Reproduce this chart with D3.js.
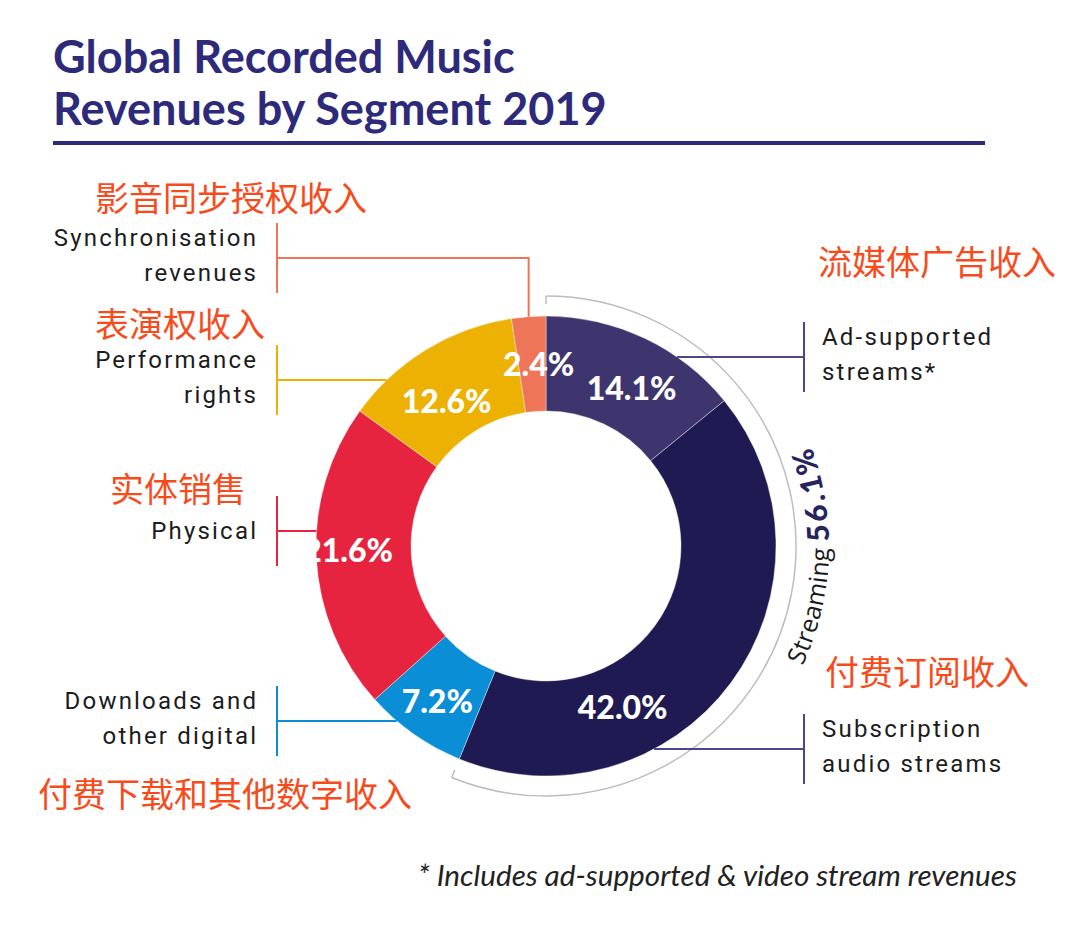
<!DOCTYPE html>
<html><head><meta charset="utf-8">
<script src="https://cdn.jsdelivr.net/npm/d3@7"></script>
<style>body{margin:0;background:#fff}</style>
</head><body><svg id="c" width="1080" height="935"></svg>
<script>
// ---- data ----
const categories = ["Ad-supported streams*","Subscription audio streams","Downloads and other digital","Physical","Performance rights","Synchronisation revenues"];
const values = [14.1, 42.0, 7.2, 21.6, 12.6, 2.4];
const cnLabels = ["流媒体广告收入","付费订阅收入","付费下载和其他数字收入","实体销售","表演权收入","影音同步授权收入"];
const enLines = [["Ad-supported","streams*"],["Subscription","audio streams"],["Downloads and","other digital"],["Physical"],["Performance","rights"],["Synchronisation","revenues"]];
const streamingCats = ["Ad-supported streams*","Subscription audio streams"];
const titleLines = ["Global Recorded Music","Revenues by Segment 2019"];
const footnote = "* Includes ad-supported & video stream revenues";
const colors = ["#3e356f","#201a52","#0a8ed6","#e6243f","#ecb102","#ee7558"];

// ---- layout ----
const cx = 546, cy = 546, R = 230, R0 = 135;
const layout = [
  {side:"right", y:357, cnX:818, cnY:275, da:3,  lr:180},
  {side:"right", y:749, cnX:825, cnY:685, da:28, lr:178},
  {side:"left",  y:721, cnX:38,  cnY:807, da:0,  lr:189},
  {side:"left",  y:531, cnX:110, cnY:502, da:2,  lr:198},
  {side:"left",  y:380, cnX:95,  cnY:337, da:-3, lr:176},
  {side:"left",  y:258, cnX:95,  cnY:211, da:2,  lr:183, elbow:true}
];
const leftBarX = 277, rightBarX = 804, leftTextX = 256, rightTextX = 822;

const svg = d3.select("#c");
const navy = "#2d2a7b";

// title
const title = svg.append("g");
titleLines.forEach((t,i)=>{
  title.append("text").attr("x",53).attr("y",73+i*52).text(t)
    .attr("font-family","Lato").attr("font-weight",700).attr("font-size",40)
    .attr("fill",navy);
});
{
  const w = title.selectAll("text").nodes()[1].getComputedTextLength();
  title.selectAll("text").attr("font-size",40*554/w);
}
svg.append("line").attr("x1",53).attr("x2",985).attr("y1",143).attr("y2",143)
  .attr("stroke",navy).attr("stroke-width",4);

// pie
const pie = d3.pie().sort(null).value(d=>d);
const arcs = pie(values);
const arc = d3.arc().innerRadius(R0).outerRadius(R);
const g = svg.append("g").attr("transform",`translate(${cx},${cy})`);
g.selectAll("path.slice").data(arcs).join("path").attr("class","slice")
  .attr("d",arc).attr("fill",(d,i)=>colors[i]).attr("stroke","#fff").attr("stroke-width",0.4);

const pt = (a,r)=>[r*Math.sin(a), -r*Math.cos(a)];

// percentage labels
g.selectAll("text.pct").data(arcs).join("text").attr("class","pct")
  .each(function(d,i){
    const a = (d.startAngle+d.endAngle)/2 + layout[i].da*Math.PI/180;
    const p = pt(a, layout[i].lr);
    d3.select(this).attr("x",p[0]).attr("y",p[1]);
  })
  .attr("text-anchor","middle").attr("dominant-baseline","central")
  .attr("font-family","Lato").attr("font-weight",900).attr("font-size",32)
  .attr("fill","#fff").text(d=>d3.format(".1f")(d.data)+"%");

// streaming bracket arc
const sIdx = streamingCats.map(c=>categories.indexOf(c));
const sStart = d3.min(sIdx, i=>arcs[i].startAngle);
const sEnd = d3.max(sIdx, i=>arcs[i].endAngle);
const sTotal = d3.sum(sIdx, i=>values[i]);
const bracketR = 250;
g.append("path").attr("d", d3.arc()({innerRadius:bracketR,outerRadius:bracketR,startAngle:sStart,endAngle:sEnd}))
  .attr("fill","none").attr("stroke","#bdbdbd").attr("stroke-width",1.5);
[sStart,sEnd].forEach(a=>{
  const p1 = pt(a,bracketR), p2 = pt(a,bracketR-8);
  g.append("line").attr("x1",p1[0]).attr("y1",p1[1]).attr("x2",p2[0]).attr("y2",p2[1])
    .attr("stroke","#bdbdbd").attr("stroke-width",1.5);
});
// streaming text path
{
  const tr = 283;
  const a1 = 165*Math.PI/180, a2 = 19*Math.PI/180;
  const p1 = pt(a1,tr), p2 = pt(a2,tr);
  g.append("path").attr("id","spath").attr("fill","none")
    .attr("d",`M${p1[0]},${p1[1]} A${tr},${tr} 0 0 0 ${p2[0]},${p2[1]}`);
  const t = g.append("text").append("textPath").attr("href","#spath")
    .attr("startOffset","50%").attr("text-anchor","middle");
  t.append("tspan").text("Streaming ").attr("font-family","Open Sans").attr("font-size",25)
    .attr("font-style","normal").attr("fill","#1a1a1a").attr("letter-spacing",0.3);
  t.append("tspan").text(d3.format(".1f")(sTotal)+"%").attr("font-family","Lato")
    .attr("font-weight",900).attr("font-size",30).attr("fill","#27235f").attr("letter-spacing",3);
}

// leaders + labels
const lab = svg.append("g");
arcs.forEach((d,i)=>{
  const L = layout[i], col = colors[i];
  const lc = (i<2) ? "#4b4788" : col;
  const barX = L.side==="left" ? leftBarX : rightBarX;
  lab.append("line").attr("x1",barX).attr("x2",barX).attr("y1",L.y-35).attr("y2",L.y+35)
    .attr("stroke",lc).attr("stroke-width",2);
  if (L.elbow) {
    const mid = (d.startAngle+d.endAngle)/2;
    const p = pt(mid,R);
    const x = cx+p[0];
    lab.append("polyline").attr("points",`${barX},${L.y} ${x},${L.y} ${x},${cy+p[1]}`)
      .attr("fill","none").attr("stroke",lc).attr("stroke-width",2);
  } else {
    const dx = Math.sqrt(R*R-(L.y-cy)*(L.y-cy));
    const ex = L.side==="left" ? cx-dx : cx+dx;
    lab.append("line").attr("x1",barX).attr("x2",ex).attr("y1",L.y).attr("y2",L.y)
      .attr("stroke",lc).attr("stroke-width",2);
  }
  const lines = enLines[i];
  const tx = L.side==="left" ? leftTextX : rightTextX;
  const baseYs = lines.length===1 ? [L.y+8] : [L.y-12, L.y+23];
  lines.forEach((s,k)=>{
    lab.append("text").attr("x", L.side==="left" ? tx+2.2 : tx).attr("y",baseYs[k]).text(s)
      .attr("text-anchor", L.side==="left" ? "end" : "start")
      .attr("font-family","Roboto").attr("font-size",24).attr("letter-spacing",2.2)
      .attr("fill","#1c1c1c");
  });
  lab.append("text").attr("x",L.cnX).attr("y",L.cnY).text(cnLabels[i])
    .attr("font-family","Noto Sans CJK SC").attr("font-size",34).attr("fill","#f84b1c");
});

// footnote
const fn = svg.append("text").attr("x",418).attr("y",886).text(footnote)
  .attr("font-family","Lato").attr("font-style","italic").attr("font-size",22).attr("fill","#222");
{
  const w = fn.node().getComputedTextLength();
  fn.attr("font-size",22*599/w);
}
</script></body></html>
